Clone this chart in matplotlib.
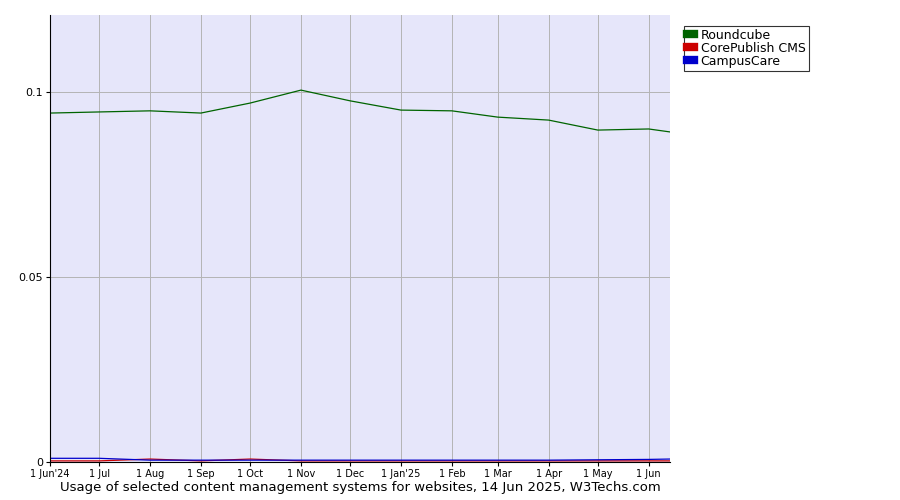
import matplotlib
matplotlib.use("Agg")
import matplotlib.pyplot as plt
import datetime as dt

# monthly samples, last point = 14 Jun 2025
dates = [dt.date(2024, 6, 1), dt.date(2024, 7, 1), dt.date(2024, 8, 1), dt.date(2024, 9, 1),
         dt.date(2024, 10, 1), dt.date(2024, 11, 1), dt.date(2024, 12, 1), dt.date(2025, 1, 1),
         dt.date(2025, 2, 1), dt.date(2025, 3, 1), dt.date(2025, 4, 1), dt.date(2025, 5, 1),
         dt.date(2025, 6, 1), dt.date(2025, 6, 14)]
roundcube = [0.0943, 0.0946, 0.0949, 0.0943, 0.0970, 0.1005, 0.0976, 0.0951,
             0.0949, 0.0932, 0.0924, 0.0897, 0.0900, 0.0892]
corepublish = [0.0003, 0.0003, 0.0008, 0.0003, 0.0008, 0.0003, 0.0003, 0.0003,
               0.0003, 0.0003, 0.0003, 0.0003, 0.0003, 0.0003]
campuscare = [0.0010, 0.0010, 0.0005, 0.0005, 0.0005, 0.0005, 0.0005, 0.0005,
              0.0005, 0.0005, 0.0005, 0.0006, 0.0007, 0.0008]

tick_dates = dates[:13]
tick_labels = ["1 Jun'24", "1 Jul", "1 Aug", "1 Sep", "1 Oct", "1 Nov", "1 Dec",
               "1 Jan'25", "1 Feb", "1 Mar", "1 Apr", "1 May", "1 Jun"]

fig = plt.figure(figsize=(9, 5), dpi=100)
ax = fig.add_axes([50 / 900, 38 / 500, 620 / 900, 447 / 500])
ax.set_facecolor("#e6e6fa")

ax.plot(dates, roundcube, color="#006400", lw=0.9, label="Roundcube")
ax.plot(dates, corepublish, color="#cc0000", lw=0.9, label="CorePublish CMS")
ax.plot(dates, campuscare, color="#0000cc", lw=0.9, label="CampusCare")

ax.set_xlim(dates[0], dates[-1])
ax.set_ylim(0, 0.1208)
ax.set_xticks(tick_dates)
ax.set_xticklabels(tick_labels, fontsize=7)
ax.set_yticks([0, 0.05, 0.1])
ax.set_yticklabels(["0", "0.05", "0.1"], fontsize=8)
ax.grid(True, color="#b4b4b4", lw=0.7)
ax.tick_params(length=3, pad=2)
for s in ["top", "right"]:
    ax.spines[s].set_visible(False)

leg = ax.legend(loc="upper left", bbox_to_anchor=(1.012, 0.99), fontsize=9,
                frameon=True, fancybox=False, edgecolor="black", handlelength=0.6,
                handleheight=0.9, borderpad=0.25, labelspacing=0.0, handletextpad=0.5)
leg.get_frame().set_linewidth(0.8)
for h in leg.legend_handles:
    h.set_linewidth(6)

fig.text(360 / 900, 1 - 488 / 500, "Usage of selected content management systems for websites, 14 Jun 2025, W3Techs.com",
         ha="center", va="center", fontsize=9.5)

fig.savefig("out.png", dpi=100)
